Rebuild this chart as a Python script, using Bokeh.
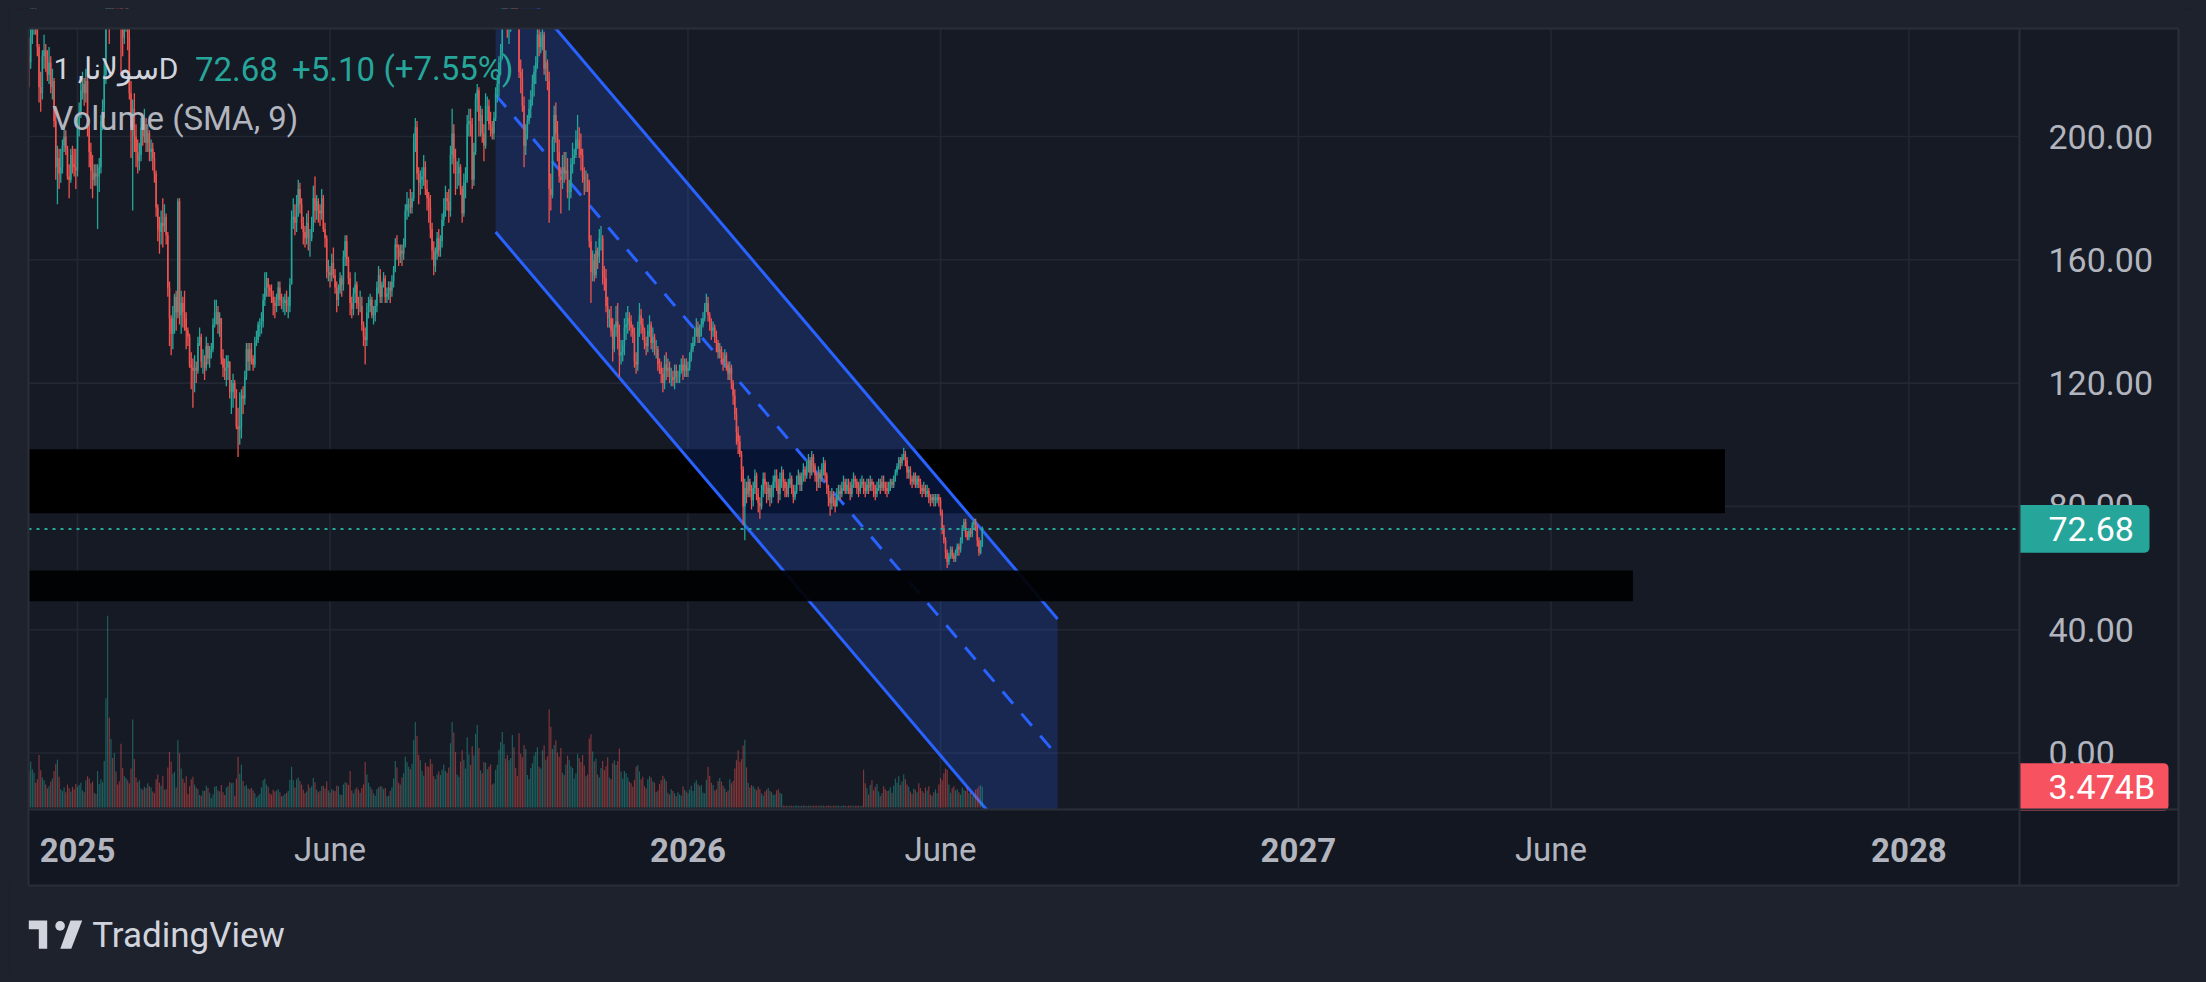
import numpy as np
import pandas as pd
from bokeh.plotting import figure
from bokeh.models import Range1d, ColumnDataSource
from bokeh.core.properties import value
from bokeh.embed import file_html
from bokeh.resources import INLINE

# ------------------------------------------------------------------ data
symbol_title = "سولانا, 1D"
title_price = "72.68"
title_change = "+5.10"
title_change_pct = "(+7.55%)"
volume_title = "Volume (SMA, 9)"
brand = "TradingView"

first_date = "2024-12-03"
first_open = 226.0

close = [
    # Dec 2024
    224,236,238,239,236,229,216,214,226,228,225,220,224,216,218,205,190,193,188,190,197,200,196,187,186,194,191,190,189,
    # Jan 2025
    203,208,215,217,214,218,203,195,189,186,188,187,187,190,205,209,220,244,255,245,258,249,256,254,253,250,235,232,238,242,232,
    # Feb
    214,203,209,200,195,192,194,203,200,204,198,201,195,196,193,188,177,170,169,172,171,174,168,151,141,136,141,148,
    # Mar
    143,179,142,146,143,141,137,135,126,125,124,125,124,133,135,127,127,125,132,128,129,131,139,143,143,139,141,128,125,124,125,
    # Apr
    127,117,117,120,118,106,105,106,116,115,122,131,127,131,128,126,133,134,139,139,140,147,151,154,151,150,148,146,145,147,
    # May
    151,147,146,146,147,145,145,152,173,174,172,177,183,178,172,169,167,172,167,167,171,180,176,179,176,175,180,170,167,156,156,
    # Jun
    155,159,155,151,147,150,154,152,161,166,160,154,146,144,149,152,146,145,145,139,135,134,143,145,147,142,142,145,151,155,
    # Jul
    148,152,154,148,149,151,150,153,157,165,164,161,163,162,165,176,178,178,177,180,198,203,188,185,186,187,190,183,180,177,170,
    # Aug
    163,158,162,167,163,166,173,176,180,179,176,194,201,193,188,188,190,183,175,185,186,204,205,204,186,195,212,215,205,207,201,
    # Sep
    197,210,210,204,203,201,206,214,217,224,227,240,243,239,235,237,239,246,242,239,238,221,219,210,197,201,205,209,212,217,
    # Oct
    221,224,233,229,232,233,222,224,218,183,181,199,207,201,195,187,186,190,188,189,182,182,191,193,194,199,199,196,194,187,186,
    # Nov
    186,185,166,156,160,155,163,161,167,167,155,154,145,141,141,137,131,138,140,136,129,130,132,138,139,141,140,138,136,127,
    # Dec
    126,138,142,139,137,133,132,137,139,133,135,131,131,126,125,123,120,126,124,125,122,122,121,124,122,122,124,126,124,126,124,
    # Jan 2026
    125,128,131,133,136,138,135,137,139,141,144,146,142,140,137,138,135,133,130,131,128,127,129,126,123,125,120,116,110,104,101,
    # Feb
    97,92,80,86,84,88,85,82,86,90,84,81,80,85,89,87,84,86,83,85,88,90,87,84,89,91,88,86,
    # Mar
    84,87,89,86,83,85,88,90,87,89,92,90,93,95,91,96,93,90,88,91,89,92,94,90,86,83,81,84,82,80,83,
    # Apr
    85,84,86,88,85,87,86,84,87,89,88,86,85,87,88,86,85,87,86,88,87,85,84,86,87,86,88,87,86,85,
    # May
    86,88,87,89,91,93,95,94,96,97,95,91,92,89,88,90,87,89,88,86,85,86,84,85,83,82,83,82,82,83,82,
    # Jun 2026
    78,73,69,65,62,64,66,64,63,65,67,66,69,73,75,71,70,72,71,74,75,73,69,65,67.58,72.68,
]

high = [
    232,242,245,247,243,238,230,221,228,233,230,228,229,226,222,219,209,197,196,196,199,204,202,197,191,196,197,196,196,
    206,211,219,221,219,222,220,206,198,194,191,191,191,193,207,212,224,248,295,262,262,260,261,262,258,256,251,244,241,246,245,
    235,218,212,214,204,199,198,206,205,209,206,204,202,199,198,195,189,178,174,176,180,178,175,169,153,142,145,149,
    150,180,180,150,148,150,143,138,136,130,128,129,127,135,138,136,131,129,135,133,132,133,141,147,147,145,143,141,131,128,129,
    129,127,121,123,121,118,112,117,118,119,124,133,133,133,133,129,135,137,140,141,143,149,156,156,154,152,152,150,148,149,
    153,153,149,148,149,150,148,154,176,180,178,181,186,185,180,174,171,175,176,170,174,184,187,181,180,178,183,181,172,168,160,
    158,162,164,157,153,152,156,155,163,168,168,161,156,148,151,156,153,148,150,148,140,138,146,148,149,148,145,147,153,158,
    157,153,156,155,151,153,153,155,158,167,168,165,165,165,167,178,182,180,183,182,201,206,205,190,189,190,194,192,186,182,181,
    172,166,164,169,170,168,175,180,184,182,183,197,209,204,196,192,193,191,184,188,190,207,209,209,206,198,214,217,216,210,209,
    204,214,213,212,208,205,208,216,220,226,230,242,248,246,242,241,244,250,250,244,242,238,225,222,213,204,207,212,215,220,
    223,226,236,235,234,237,234,228,225,221,188,200,210,211,205,199,190,194,195,195,193,186,193,198,196,202,207,203,201,196,190,
    189,188,186,168,163,162,166,164,170,171,168,158,157,148,144,145,141,139,145,146,139,134,134,141,143,145,143,142,139,138,
    130,140,146,144,141,138,135,139,142,140,138,136,134,132,128,127,125,129,130,128,127,125,124,126,126,124,126,128,129,128,128,
    127,130,133,135,138,141,140,139,141,143,146,149,148,143,141,140,139,137,134,133,132,130,131,130,127,127,126,121,118,112,106,
    103,98,93,89,88,90,89,87,88,92,91,86,83,87,91,91,88,88,87,87,90,92,92,89,91,93,92,89,
    88,89,91,90,87,87,90,92,91,91,94,93,95,97,96,98,97,94,91,93,92,94,96,95,91,87,85,86,85,83,86,
    87,87,88,90,89,89,89,88,89,91,90,89,88,89,90,89,88,89,89,90,89,88,87,88,89,89,90,90,88,88,
    88,89,89,90,92,94,96,96,97,99,98,96,93,93,90,91,91,90,90,89,87,88,87,87,86,84,84,84,84,84,84,
    83,79,74,70,66,65,67,67,65,66,68,68,70,74,76,76,72,73,73,75,76,76,74,70,69,73.5,
]

low = [
    216,222,230,233,233,226,211,208,212,222,221,218,217,214,212,203,186,178,183,185,188,195,194,186,180,185,188,187,183,
    187,200,206,212,210,211,200,190,183,180,184,184,170,182,188,202,206,217,238,230,241,241,245,248,248,244,220,226,230,234,228,
    212,193,176,195,190,188,189,192,197,198,195,195,192,192,189,185,174,166,162,165,164,169,165,148,132,129,131,136,
    137,141,139,136,138,137,131,132,125,118,112,117,120,123,132,125,123,121,124,126,125,128,130,138,139,136,135,126,122,121,119,
    121,115,110,112,115,105,96,100,102,110,113,121,124,124,126,124,125,132,133,135,136,138,145,148,148,148,146,142,141,143,
    145,145,144,143,142,143,141,143,152,170,168,169,174,175,170,165,164,165,163,161,166,169,172,173,172,171,173,169,164,154,153,
    151,153,154,149,143,145,149,148,150,158,158,152,142,141,142,146,144,142,143,137,132,126,132,141,143,141,139,140,143,149,
    146,146,151,146,146,147,146,148,151,156,160,158,159,158,160,164,173,174,175,175,179,195,186,178,181,183,184,181,176,172,167,
    160,155,156,160,161,161,164,171,174,176,172,174,191,188,181,183,184,181,172,174,180,185,200,200,183,184,194,208,200,200,198,
    192,196,205,202,200,199,199,205,211,213,220,225,236,236,232,230,234,237,238,236,235,219,214,208,190,194,199,204,206,210,
    213,217,222,226,227,228,220,218,215,172,176,180,195,198,192,185,175,183,185,186,180,176,180,188,191,193,196,193,189,185,181,
    182,182,164,146,153,153,154,157,159,163,152,150,143,138,138,135,127,130,135,131,122,126,127,129,134,136,137,135,133,125,
    123,124,135,136,134,131,129,130,135,131,130,129,128,124,123,120,117,118,121,122,120,119,119,118,120,120,120,123,121,122,122,
    122,124,127,130,132,135,133,133,135,138,140,143,140,137,134,135,133,130,128,128,126,124,125,124,121,121,118,113,108,100,97,
    96,88,74,69,81,83,83,79,80,84,82,78,76,79,83,84,81,82,80,81,83,86,85,81,82,86,85,83,
    83,83,86,84,81,82,84,87,85,85,88,88,89,91,89,90,91,88,85,86,86,88,90,88,84,80,77,79,80,78,80,
    82,82,83,85,84,84,84,82,83,86,86,84,83,84,86,84,83,84,84,85,85,83,82,83,85,84,85,85,84,83,
    84,85,86,86,88,90,92,92,93,95,93,89,89,87,86,87,86,86,86,84,83,84,83,83,81,80,81,80,80,81,80,
    77,71,68,63,60,61,63,63,62,62,64,64,65,68,72,70,69,69,70,70,73,72,67,64,64.5,66.8,
]

# daily volume, billions
volume = [
    6.1,7.8,6.5,5.9,4.2,4.8,8.9,6.3,5.1,4.6,3.9,3.2,3.6,4.4,4.9,6.2,7.4,8.1,5.2,3.1,2.8,3.4,2.6,3.9,3.3,2.7,3.5,3.1,4.0,
    3.5,3.8,4.2,2.9,2.6,4.6,5.3,4.9,4.1,4.4,2.5,2.3,6.2,4.0,4.8,4.3,7.9,18.5,32.5,15.2,11.6,8.4,9.2,6.1,3.9,4.4,10.8,6.7,5.3,5.0,4.6,
    4.1,6.6,14.9,8.2,5.1,4.3,4.6,3.2,3.0,3.5,3.3,4.1,3.6,3.4,2.7,2.4,4.8,5.6,4.2,3.7,5.4,3.0,3.1,6.8,9.4,7.8,5.7,6.0,
    3.4,11.4,9.2,6.6,4.9,4.2,5.3,2.3,3.6,4.8,5.2,3.9,3.4,3.1,2.1,2.0,2.9,2.8,3.7,3.3,2.5,1.6,2.2,3.5,3.6,2.9,2.7,3.8,2.6,2.1,3.4,
    3.6,4.3,4.1,4.2,2.0,4.9,8.6,5.7,7.3,4.5,3.6,3.8,3.2,3.1,3.3,2.9,2.4,1.7,2.0,2.3,3.4,4.6,4.9,3.9,3.5,2.4,2.2,3.0,2.7,2.9,
    3.1,2.6,1.9,2.0,2.3,2.5,2.8,4.7,6.9,4.6,3.4,4.8,5.1,4.5,3.9,3.0,2.4,2.7,3.9,3.3,3.6,5.0,4.3,3.0,2.6,2.8,3.6,3.7,3.2,4.4,2.9,
    2.5,3.1,2.9,2.8,3.7,3.6,2.2,2.1,3.9,4.3,4.1,3.8,6.2,2.9,2.4,3.1,3.4,3.0,2.5,3.3,3.9,7.7,5.6,4.2,3.5,3.1,2.4,2.0,3.1,3.4,
    3.6,3.5,3.1,3.3,1.9,2.0,2.8,3.4,4.9,7.9,6.8,4.2,3.9,5.1,5.8,8.6,7.7,6.9,6.5,7.4,11.4,14.5,12.1,8.9,8.0,6.2,5.4,7.6,7.0,6.9,8.2,
    7.4,5.3,4.8,5.6,6.1,5.5,6.4,7.3,6.2,5.9,6.8,10.9,14.5,12.7,9.4,5.6,5.2,7.8,9.7,8.1,6.6,11.9,9.0,7.2,10.4,8.8,12.5,14.0,10.1,6.3,5.8,
    7.7,7.6,6.5,6.9,7.3,3.9,4.1,6.4,7.2,9.8,11.1,12.8,10.7,8.2,8.9,8.0,8.4,12.3,10.2,6.7,5.4,12.6,9.1,8.5,10.6,9.9,5.5,4.8,6.7,7.5,
    8.8,9.4,10.2,6.9,6.6,9.7,10.5,8.1,8.7,16.6,13.7,9.9,10.6,11.4,9.3,8.6,10.1,5.9,5.5,7.3,8.8,8.1,7.0,6.7,4.9,5.8,9.1,8.4,7.7,8.9,7.1,
    5.3,5.6,11.7,12.4,9.5,7.8,8.3,5.6,5.1,6.7,7.9,6.3,7.0,8.5,5.1,4.8,7.5,8.0,7.2,7.9,10.0,6.1,4.9,6.2,5.8,5.1,4.4,4.1,3.5,4.7,
    6.9,7.2,6.1,4.8,5.2,3.6,3.2,4.8,5.3,5.1,4.4,4.2,2.6,2.9,4.0,4.6,5.4,4.9,4.5,2.5,2.2,3.1,2.8,2.4,1.9,2.6,2.2,2.0,3.6,3.0,2.7,
    2.4,3.0,3.7,2.8,4.2,4.6,3.9,3.6,3.8,2.5,2.4,4.7,6.9,5.4,4.2,3.8,2.9,3.1,4.5,5.0,4.4,3.7,3.2,2.6,2.9,4.8,4.1,4.5,6.6,8.0,9.7,
    7.7,8.2,10.5,11.5,6.8,4.2,3.4,3.8,3.6,3.2,2.9,3.5,3.1,2.4,2.0,2.7,3.0,3.3,2.8,2.6,2.1,2.2,2.9,3.1,2.5,2.3,0.3,0.3,
    0.3,0.2,0.3,0.3,0.2,0.3,0.3,0.3,0.2,0.3,0.3,0.3,0.2,0.3,0.3,0.2,0.3,0.3,0.3,0.2,0.3,0.3,0.3,0.2,0.3,0.3,0.3,0.2,0.3,0.3,0.3,
    0.3,0.2,0.3,0.3,0.3,0.2,0.3,0.3,0.3,0.2,0.3,0.3,0.3,0.2,0.3,6.4,4.1,3.3,2.2,3.8,4.6,2.9,3.5,4.0,2.7,1.9,2.4,3.6,3.1,2.8,
    2.9,3.4,2.5,3.7,4.9,4.2,5.3,3.8,4.4,5.6,4.8,3.9,3.5,2.7,2.3,3.2,3.0,2.6,4.1,3.3,2.8,2.5,3.4,2.9,3.6,2.2,2.0,2.6,3.1,2.4,3.9,
    5.0,4.6,5.8,6.6,6.4,3.9,2.5,3.3,3.6,2.9,3.1,2.6,2.2,3.4,3.0,2.8,3.5,2.4,2.7,1.9,2.3,3.0,3.2,3.6,3.8,3.474,
]
last_volume_label = "3.474B"

price_ticks = [0, 40, 80, 120, 160, 200]
time_ticks = ["2025-01-01", "2025-06-01", "2026-01-01", "2026-06-01",
              "2027-01-01", "2027-06-01", "2028-01-01"]
time_labels = ["2025", "June", "2026", "June", "2027", "June", "2028"]
time_is_year = [True, False, True, False, True, False, True]

# regression-channel drawing (start / end)
channel_dates = ["2025-09-08", "2026-08-10"]
channel_upper = [258.0, 43.5]
channel_lower = [169.0, -45.5]

# two black boxes laid over the chart
box_left = ["2024-12-03", "2024-12-03"]
box_right = ["2027-09-13", "2027-07-20"]
box_top = [98.5, 59.2]
box_bottom = [77.8, 49.25]

# ------------------------------------------------------------------ layout (page pixels)
W, H = 2190, 966            # figure size (page padding 8px)
X0_PX, PX_DAY = 77.0, 1.6725  # x of 2025-01-01, px per day
Y0_PX, PX_USD = 752.5, 3.0825  # y of price 0, px per USD
V0_PX, PX_BN = 807.0, 5.9      # y of volume 0, px per billion
PL, PR, PT, PB = 28, 2019, 28, 809   # plot area
QR, QB = 2178, 885                    # outer panel edge (right / bottom)

PAGE_BG = "#1e222d"
PLOT_BG = "#161a25"
TIME_BG = "#131722"
BORDER = "#2a2e39"
GRID = "#232733"
AXIS_TXT = "#b2b5be"
UP, DOWN = "#26a69a", "#ef5350"
CHAN = "#2962ff"
FONT = value("Roboto")

REF = pd.Timestamp("2025-01-01")


def dx(px):
    return (px - X0_PX) / PX_DAY


def py(px):
    return (Y0_PX - px) / PX_USD


def vy(px):
    return (V0_PX - px) / PX_BN


def to_day(s):
    return float((pd.Timestamp(s) - REF).days)


# ------------------------------------------------------------------ prepare
n = min(len(close), len(high), len(low), len(volume))
c = np.array(close[:n], float)
hi = np.array(high[:n], float)
lo = np.array(low[:n], float)
vol = np.array(volume[:n], float)
o = np.concatenate([[first_open], c[:-1]])
dates = pd.date_range(first_date, periods=n, freq="D")
day = np.array([(d - REF).days for d in dates], float)
col = np.where(c >= o, UP, DOWN)

src = ColumnDataSource(dict(day=day, o=o, c=c, hi=hi, lo=lo, vol=vol, col=col,
                            top=np.maximum(o, c), bot=np.minimum(o, c)))

p = figure(width=W, height=H, output_backend="svg", toolbar_location=None,
           x_range=Range1d(dx(8), dx(8 + W)), y_range=Range1d(py(8 + H), py(8)),
           x_axis_location=None, y_axis_location=None, title_location=None,
           min_border_left=0, min_border_right=0, min_border_top=0, min_border_bottom=0,
           background_fill_color=PAGE_BG, border_fill_color=PAGE_BG,
           outline_line_color=None)
p.extra_y_ranges = {"vol": Range1d(vy(8 + H), vy(8))}
p.grid.visible = False


def quad_px(x0, x1, y0, y1, color, alpha=1.0):
    p.quad(left=dx(x0), right=dx(x1), top=py(y0), bottom=py(y1),
           fill_color=color, fill_alpha=alpha, line_color=None)


def text(x, y, s, size, color, align="left", baseline="middle", style="normal", **kw):
    p.text(x=[x], y=[y], text=[s], text_font=FONT, text_font_size=value(f"{size}px"),
           text_color=color, text_align=align, text_baseline=baseline,
           text_font_style=style, **kw)


# panel background
quad_px(PL, QR, PT, QB, PLOT_BG)

# grid
tdays = [to_day(t) for t in time_ticks]
p.segment(x0=tdays, x1=tdays, y0=[py(PB)] * len(tdays), y1=[py(PT)] * len(tdays),
          line_color=GRID, line_width=1.6)
p.segment(x0=[dx(PL)] * len(price_ticks), x1=[dx(PR)] * len(price_ticks),
          y0=price_ticks, y1=price_ticks, line_color=GRID, line_width=1.6)

# first black box (under the channel)
p.quad(left=[to_day(box_left[0])], right=[to_day(box_right[0])],
       top=[box_top[0]], bottom=[box_bottom[0]], fill_color="#000000", line_color=None)

# channel
cd = [to_day(d) for d in channel_dates]
mid = [(u + l) / 2 for u, l in zip(channel_upper, channel_lower)]
p.patch(x=[cd[0], cd[1], cd[1], cd[0]],
        y=[channel_upper[0], channel_upper[1], channel_lower[1], channel_lower[0]],
        fill_color=CHAN, fill_alpha=0.2, line_color=None)
p.line(x=cd, y=channel_upper, line_color=CHAN, line_width=3)
p.line(x=cd, y=channel_lower, line_color=CHAN, line_width=3)
p.line(x=cd, y=mid, line_color=CHAN, line_width=3, line_dash="16 13")

# second black box (over the channel)
p.quad(left=[to_day(box_left[1])], right=[to_day(box_right[1])],
       top=[box_top[1]], bottom=[box_bottom[1]], fill_color="#000000",
       fill_alpha=0.92, line_color=None)

# volume
p.vbar(x="day", width=0.7, top="vol", bottom=0, source=src, fill_color="col",
       fill_alpha=0.5, line_color=None, y_range_name="vol")

# candles
p.segment(x0="day", x1="day", y0="lo", y1="hi", source=src, line_color="col", line_width=1.3)
p.vbar(x="day", width=0.9, top="top", bottom="bot", source=src, fill_color="col", line_color=None)

# last-price dotted line
last = float(c[-1])
p.segment(x0=[dx(PL)], x1=[dx(PR)], y0=[last], y1=[last], line_color=UP,
          line_width=2, line_dash="3 5")

# cover everything outside the plot area
quad_px(PR, QR, PT, PB, PLOT_BG)        # price scale
quad_px(PL, QR, PB, QB, TIME_BG)        # time scale
quad_px(8, 8 + W, 8, PT, PAGE_BG)       # page margins
quad_px(8, 8 + W, QB, 8 + H, PAGE_BG)
quad_px(8, PL, 8, 8 + H, PAGE_BG)
quad_px(QR, 8 + W, 8, 8 + H, PAGE_BG)

# price scale labels
for t in price_ticks:
    text(dx(2048), t, f"{t:.2f}", 34, AXIS_TXT)

# last price / last volume boxes
half = 23.85
try:
    p.quad(left=[dx(PR)], right=[dx(2149)], top=[last + half / PX_USD], bottom=[last - half / PX_USD],
           fill_color=UP, line_color=None, border_radius=(0, 5, 5, 0))
except Exception:
    p.quad(left=[dx(PR)], right=[dx(2149)], top=[last + half / PX_USD], bottom=[last - half / PX_USD],
           fill_color=UP, line_color=None)
text(dx(2048), last, f"{last:.2f}", 34, "#ffffff")

lv = float(vol[-1])
try:
    p.quad(left=[dx(PR)], right=[dx(2168)], top=[lv + half / PX_BN], bottom=[lv - half / PX_BN],
           fill_color="#f7525f", line_color=None, border_radius=(0, 5, 5, 0), y_range_name="vol")
except Exception:
    p.quad(left=[dx(PR)], right=[dx(2168)], top=[lv + half / PX_BN], bottom=[lv - half / PX_BN],
           fill_color="#f7525f", line_color=None, y_range_name="vol")
text(dx(2048), lv, last_volume_label, 34, "#ffffff", y_range_name="vol")

# time scale labels
yl = py(849)
for d, lab, yr in zip(tdays, time_labels, time_is_year):
    text(d, yl, lab, 33, AXIS_TXT, align="center", style="bold" if yr else "normal")

# borders
p.segment(x0=[dx(PL), dx(PL), dx(PL), dx(QR), dx(PR), dx(PL)],
          x1=[dx(QR), dx(QR), dx(PL), dx(QR), dx(PR), dx(QR)],
          y0=[py(PT), py(QB), py(PT), py(PT), py(PT), py(PB)],
          y1=[py(PT), py(QB), py(QB), py(QB), py(QB), py(PB)],
          line_color=BORDER, line_width=2)

# legend texts (vertically centred on the cap height)
t_y = py(68.0)
text(dx(53), t_y, symbol_title, 30, "#d1d4dc")
text(dx(194.5), t_y, title_price, 33, UP)
text(dx(291.5), t_y, title_change, 33, UP)
text(dx(383), t_y, title_change_pct, 33, UP)
text(dx(51.7), py(117.5), volume_title, 33, AXIS_TXT)

# TradingView logo
LOGO = "#d1d4dc"
tx = [28.3, 46.7, 46.7, 38.3, 38.3, 28.3]
ty = [920, 920, 948.3, 948.3, 928.8, 928.8]
p.patch(x=[dx(v) for v in tx], y=[py(v) for v in ty], fill_color=LOGO, line_color=None)
p.scatter(x=[dx(59.6)], y=[py(925.4)], size=9.6, marker="circle", fill_color=LOGO, line_color=None)
sx = [70.0, 81.7, 70.8, 59.8]
sy = [920, 920, 948.3, 948.3]
p.patch(x=[dx(v) for v in sx], y=[py(v) for v in sy], fill_color=LOGO, line_color=None)
text(dx(91.7), py(935.0), brand, 35, LOGO)

html = file_html(p, INLINE, title="SOL 1D")
css = ("<style>html,body{background:#1e222d !important;}"
       "body{margin:0 !important;padding:8px !important;box-sizing:border-box !important;}</style>")
html = html.replace("</head>", css + "</head>", 1)
open("out.html", "w").write(html)
